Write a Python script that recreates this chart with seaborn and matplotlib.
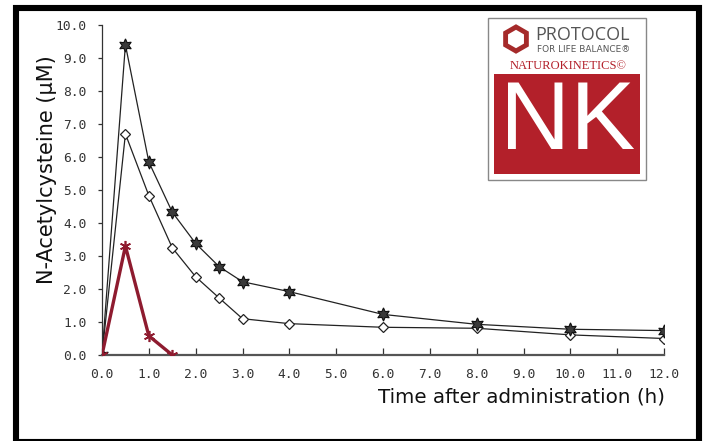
import pandas as pd
import matplotlib
matplotlib.use("Agg")
import matplotlib.pyplot as plt
import seaborn as sns
from matplotlib.patches import Rectangle, RegularPolygon

# Data
time_h = [0.0, 0.5, 1.0, 1.5, 2.0, 2.5, 3.0, 4.0, 6.0, 8.0, 10.0, 12.0]
serie_stjerne = [0.0, 9.4, 5.85, 4.33, 3.38, 2.68, 2.22, 1.92, 1.23, 0.93, 0.78, 0.74]
serie_diamant = [0.0, 6.7, 4.83, 3.25, 2.37, 1.73, 1.1, 0.95, 0.84, 0.81, 0.61, 0.5]
time_rod = [0.0, 0.5, 1.0, 1.5]
serie_rod = [0.0, 3.3, 0.58, 0.0]

x_ticks = [0, 1, 2, 3, 4, 5, 6, 7, 8, 9, 10, 11, 12]
y_ticks = [0, 1, 2, 3, 4, 5, 6, 7, 8, 9, 10]

df_svart = pd.DataFrame({"tid": time_h, "stjerne": serie_stjerne, "diamant": serie_diamant})
df_rod = pd.DataFrame({"tid": time_rod, "verdi": serie_rod})

sns.set_style("white")
plt.rcParams["font.family"] = ["DejaVu Sans"]

W, H = 704, 441
fig = plt.figure(figsize=(W / 100, H / 100), dpi=100)
ax = fig.add_axes([102 / W, 1 - 355 / H, (664 - 102) / W, (355 - 25) / H])

mork_rod = "#8e1b2f"

sns.lineplot(data=df_svart, x="tid", y="diamant", ax=ax, color="#222222", lw=0.9,
             marker="D", markersize=5.5, markerfacecolor="white", markeredgecolor="#222222",
             markeredgewidth=0.9)
sns.lineplot(data=df_svart, x="tid", y="stjerne", ax=ax, color="#222222", lw=0.9,
             marker=(6, 1, 0), markersize=9.5, markerfacecolor="#3a3a3a",
             markeredgecolor="#111111", markeredgewidth=0.8)
sns.lineplot(data=df_rod, x="tid", y="verdi", ax=ax, color=mork_rod, lw=2.4,
             marker=(6, 2, 0), markersize=8, markeredgecolor=mork_rod,
             markeredgewidth=1.2, zorder=5)

ax.set_xlim(0, 12)
ax.set_ylim(0, 10)
ax.set_xticks(x_ticks)
ax.set_yticks(y_ticks)
ax.set_xticklabels([f"{v:.1f}" for v in x_ticks], family="DejaVu Sans Mono",
                   fontsize=9.3, color="#333333")
ax.set_yticklabels([f"{v:.1f}" for v in y_ticks], family="DejaVu Sans Mono",
                   fontsize=9.3, color="#333333")
ax.tick_params(axis="x", direction="in", length=5, width=0.9, color="#333333", pad=9)
ax.tick_params(axis="y", direction="out", length=3, width=0.9, color="#333333", pad=8, left=True)
ax.tick_params(axis="x", bottom=True)
for s in ["top", "right"]:
    ax.spines[s].set_visible(False)
ax.spines["left"].set_color("#333333")
ax.spines["left"].set_linewidth(0.9)
ax.spines["bottom"].set_color("#555555")
ax.spines["bottom"].set_linewidth(1.6)
ax.set_xlabel("")
ax.set_ylabel("")

fig.text(47 / W, 1 - 170 / H, "N-Acetylcysteine (µM)", rotation=90, ha="center", va="center",
         fontsize=15, color="#111111")
fig.text(665 / W, 1 - 397 / H, "Time after administration (h)", ha="right", va="center",
         fontsize=14.3, color="#111111")

# Overlay for frame and logo (pixel coordinates)
ov = fig.add_axes([0, 0, 1, 1], zorder=10)
ov.set_xlim(0, W)
ov.set_ylim(H, 0)
ov.axis("off")
ov.patch.set_alpha(0)

ov.add_patch(Rectangle((16, 8), 683, 434, fill=False, lw=4.4, edgecolor="black"))

logo_rod = "#b3202a"
ov.add_patch(Rectangle((488, 18), 158, 162, facecolor="white", edgecolor="#888888", lw=1.0))
ov.add_patch(Rectangle((494, 74), 146, 100, facecolor=logo_rod, edgecolor="none"))
ov.add_patch(RegularPolygon((516, 39), numVertices=6, radius=12, orientation=0,
                            fill=False, edgecolor="#a52a2a", lw=3.5))
ov.text(535, 35, "PROTOCOL", fontsize=13, color="#555555", ha="left", va="center",
        family="Open Sans")
ov.text(537, 50, "FOR LIFE BALANCE®", fontsize=6.4, color="#555555", ha="left", va="center")
ov.text(568, 66, "NATUROKINETICS©", fontsize=9, color=logo_rod, ha="center", va="center",
        family="Liberation Serif")
ov.text(568, 124, "NK", fontsize=70, color="white", ha="center", va="center",
        family="Liberation Sans")

fig.savefig("out.png", dpi=100)
